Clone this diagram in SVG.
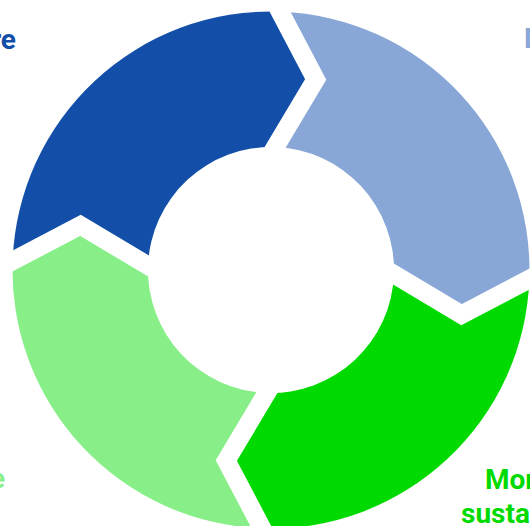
<svg xmlns="http://www.w3.org/2000/svg" width="530" height="526" viewBox="0 0 530 526">
  <style>
    .seg { stroke: none; }
    .gap { fill: none; stroke: #ffffff; stroke-width: 18.5; stroke-linejoin: miter; stroke-linecap: butt; }
    .label { font-family: Roboto, "Liberation Sans", sans-serif; font-weight: bold; font-size: 28px; }
  </style>
  <rect width="530" height="526" fill="#ffffff"/>

  <!-- ring of four arrow segments, centre (271,270), outer r 258.5, inner r 123 -->
  <g transform="translate(271 270) rotate(2)">
    <g id="seg-top-left">
      <path class="seg" fill="#134ea8" d="M -258.5 0 A 258.5 258.5 0 0 1 0 -258.5 L 38 -192 L 0 -123 A 123 123 0 0 0 -123 0 L -192 -38 Z"/>
    </g>
    <g id="seg-top-right">
      <path class="seg" fill="#88a7d7" d="M 0 -258.5 A 258.5 258.5 0 0 1 258.5 0 L 192 38 L 123 0 A 123 123 0 0 0 0 -123 L 38 -192 Z"/>
    </g>
    <g id="seg-bottom-right">
      <path class="seg" fill="#00da00" d="M 258.5 0 A 258.5 258.5 0 0 1 0 258.5 L -38 192 L 0 123 A 123 123 0 0 0 123 0 L 192 38 Z"/>
    </g>
    <g id="seg-bottom-left">
      <path class="seg" fill="#88ee88" d="M 0 258.5 A 258.5 258.5 0 0 1 -258.5 0 L -192 -38 L -123 0 A 123 123 0 0 0 0 123 L -38 192 Z"/>
    </g>

    <!-- chevron-shaped separators between the segments -->
    <g id="separators">
      <polyline class="gap" points="-15.2,-285.1 38,-192 -15.2,-95.4"/>
      <polyline class="gap" points="285.1,-15.2 192,38 95.4,-15.2"/>
      <polyline class="gap" points="15.2,285.1 -38,192 15.2,95.4"/>
      <polyline class="gap" points="-285.1,15.2 -192,-38 -95.4,15.2"/>
    </g>
  </g>

  <!-- labels -->
  <g id="labels" class="label">
    <text x="16" y="49" text-anchor="end" fill="#134ea8">re</text>
    <text x="524" y="48" fill="#88a7d7">D</text>
    <text x="5" y="488" text-anchor="end" fill="#88ee88">e</text>
    <text x="485" y="489" fill="#00da00">Mor</text>
    <text x="461" y="523" fill="#00da00">susta</text>
  </g>
</svg>
